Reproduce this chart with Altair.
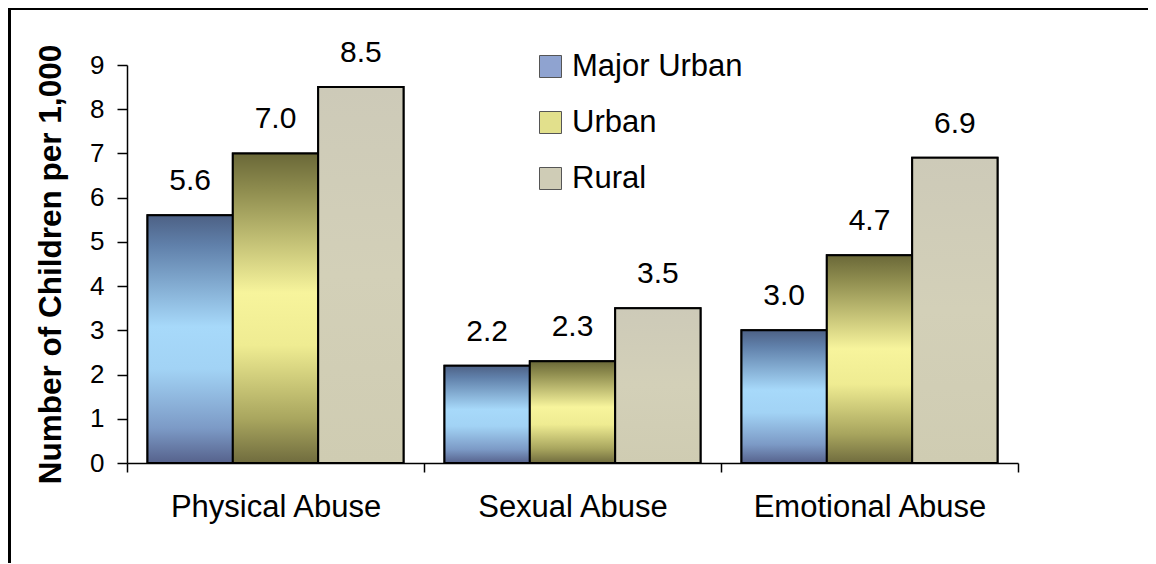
import altair as alt
import pandas as pd

categories = ["Physical Abuse", "Sexual Abuse", "Emotional Abuse"]
series = ["Major Urban", "Urban", "Rural"]
major_urban = [5.6, 2.2, 3.0]
urban = [7.0, 2.3, 4.7]
rural = [8.5, 3.5, 6.9]
y_ticks = list(range(10))

legend_colors = ["#8fa3d0", "#e2e08c", "#cfccb6"]

rows = []
for s, vals in zip(series, [major_urban, urban, rural]):
    for c, v in zip(categories, vals):
        rows.append({"category": c, "series": s, "value": v})
df = pd.DataFrame(rows)

FONT = "Liberation Sans"


def grad(stops):
    return alt.Gradient(
        gradient="linear",
        stops=[alt.GradientStop(color=c, offset=o) for o, c in stops],
        x1=0, x2=0, y1=0, y2=1,
    )


gradients = {
    "Major Urban": grad([(0, "#4d6185"), (0.12, "#6080aa"), (0.45, "#a7d9fa"),
                         (0.62, "#a2d3f5"), (0.86, "#7c9ac6"), (1, "#56628c")]),
    "Urban": grad([(0, "#6a6838"), (0.12, "#8f8d4f"), (0.45, "#f7f49c"),
                   (0.62, "#efec92"), (0.86, "#a8a55e"), (1, "#706c3e")]),
    "Rural": grad([(0, "#cdcab8"), (0.5, "#d3d0b8"), (1, "#cfccb2")]),
}

x_enc = alt.X(
    "category:N", sort=categories,
    scale=alt.Scale(paddingInner=0, paddingOuter=0),
    axis=alt.Axis(title=None, labelAngle=0, labelFont=FONT, labelFontSize=31,
                  labelColor="black", labelLimit=0, tickBand="extent", tickSize=9,
                  tickColor="black", tickWidth=1.5, domainColor="black",
                  domainWidth=1.5, labelPadding=20, grid=False),
)
xo_enc = alt.XOffset(
    "series:N", sort=series,
    scale=alt.Scale(domain=series, paddingInner=0, paddingOuter=0.24),
)
y_enc = alt.Y(
    "value:Q",
    scale=alt.Scale(domain=[0, 9], nice=False),
    axis=alt.Axis(values=y_ticks, title="Number of Children per 1,000",
                  titleFont=FONT, titleFontSize=31.5, titleFontWeight="bold",
                  titleColor="black", titlePadding=22,
                  labelFont=FONT, labelFontSize=26, labelColor="black",
                  labelPadding=13, tickSize=10, tickColor="black",
                  tickWidth=1.5, domainColor="black", domainWidth=1.5,
                  grid=False),
)

base = alt.Chart(df).mark_bar(stroke="black", strokeWidth=2).encode(
    x=x_enc, xOffset=xo_enc, y=y_enc,
    color=alt.Color(
        "series:N",
        scale=alt.Scale(domain=series, range=legend_colors),
        legend=alt.Legend(
            title=None, orient="none", legendX=408, legendY=-14,
            labelFont=FONT, labelFontSize=31, labelColor="black", labelLimit=0,
            symbolType="square", symbolSize=484, symbolStrokeColor="#555555",
            symbolStrokeWidth=1, rowPadding=24, labelOffset=6, padding=0,
        ),
    ),
)

layers = [base]
for s in series:
    layers.append(
        alt.Chart(df).transform_filter(alt.datum.series == s)
        .mark_bar(fill=gradients[s], stroke="black", strokeWidth=2)
        .encode(x=x_enc, xOffset=xo_enc, y=y_enc)
    )

labels = alt.Chart(df).mark_text(
    font=FONT, fontSize=30, color="black", baseline="alphabetic", dy=-25
).encode(x=x_enc, xOffset=xo_enc, y=y_enc, text=alt.Text("value:Q", format=".1f"))
layers.append(labels)

frame = alt.Chart(pd.DataFrame({"f": [0]})).mark_rect(
    fillOpacity=0, stroke="black", strokeWidth=3, clip=False
).encode(
    x=alt.value(-119 + 1.5), y=alt.value(-57 + 0.5),
    x2=alt.value(1200), y2=alt.value(700),
)
layers.append(frame)

chart = alt.layer(*layers).properties(
    width=891, height=398,
    background="white",
    autosize=alt.AutoSizeParams(type="none"),
    padding={"left": 119, "top": 57, "right": 130, "bottom": 100},
).configure_view(strokeWidth=0, stroke=None)

chart.save("out.html", embed_options={"renderer": "svg", "actions": False})
